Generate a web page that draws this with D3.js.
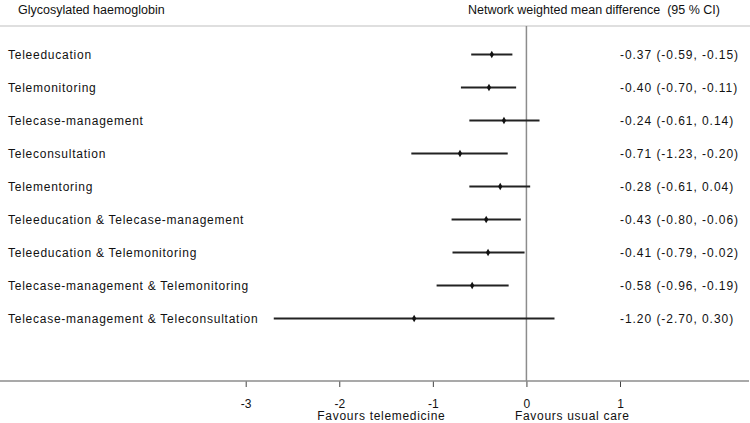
<!DOCTYPE html>
<html>
<head>
<meta charset="utf-8">
<script src="https://cdn.jsdelivr.net/npm/d3@7"></script>
<style>
  body { margin: 0; background: #fff; }
  svg { display: block; font-family: "Liberation Sans", Arial, sans-serif; }
</style>
</head>
<body>
<div id="chart"></div>
<script>
const width = 750, height = 423;

// data
const treatments = ["Teleeducation", "Telemonitoring", "Telecase-management", "Teleconsultation",
  "Telementoring", "Teleeducation & Telecase-management", "Teleeducation & Telemonitoring",
  "Telecase-management & Telemonitoring", "Telecase-management & Teleconsultation"];
const means = [-0.37, -0.40, -0.24, -0.71, -0.28, -0.43, -0.41, -0.58, -1.20];
const lowers = [-0.59, -0.70, -0.61, -1.23, -0.61, -0.80, -0.79, -0.96, -2.70];
const uppers = [-0.15, -0.11, 0.14, -0.20, 0.04, -0.06, -0.02, -0.19, 0.30];
const ticks = [-3, -2, -1, 0, 1];

// plain hyphen for minus, like the original
const locale = d3.formatLocale({decimal: ".", thousands: ",", grouping: [3], currency: ["", ""], minus: "-"});
const fmt = locale.format(".2f");

const x = d3.scaleLinear().domain([-3, 1]).range([245.7, 620]);
const y = d3.scaleBand().domain(treatments).range([38, 335]);

const svg = d3.select("#chart").append("svg")
    .attr("width", width)
    .attr("height", height);

// headers
svg.append("text").attr("x", 18).attr("y", 14)
    .attr("font-size", 12.5).attr("fill", "#111")
    .text("Glycosylated haemoglobin");
svg.append("text").attr("x", 468).attr("y", 14)
    .attr("font-size", 12.5).attr("fill", "#111")
    .attr("xml:space", "preserve")
    .text("Network weighted mean difference  (95 % CI)");

svg.append("line")
    .attr("x1", 0).attr("x2", width).attr("y1", 26).attr("y2", 26)
    .attr("stroke", "#d4d4d4").attr("stroke-width", 1.5);

// zero line
svg.append("line")
    .attr("x1", x(0)).attr("x2", x(0)).attr("y1", 26).attr("y2", 381)
    .attr("stroke", "#8c8c8c").attr("stroke-width", 1.5);

// bottom axis
const axisY = 381;
const axis = svg.append("g").attr("transform", `translate(0,${axisY})`)
    .call(d3.axisBottom(x).tickValues(ticks).tickSize(6).tickPadding(12).tickFormat(locale.format("d")));
axis.select(".domain").remove();
axis.selectAll(".tick line").attr("stroke", "#444");
axis.selectAll(".tick text").attr("font-size", 12).attr("fill", "#111")
    .attr("font-family", "'Liberation Sans', Arial, sans-serif");
svg.append("line")
    .attr("x1", 0).attr("x2", width - 1).attr("y1", axisY).attr("y2", axisY)
    .attr("stroke", "#8c8c8c").attr("stroke-width", 1.5);

svg.append("text").attr("x", x(-1.55)).attr("y", 420)
    .attr("text-anchor", "middle").attr("font-size", 12).attr("letter-spacing", 0.7)
    .attr("fill", "#111").text("Favours telemedicine");
svg.append("text").attr("x", x(0.49)).attr("y", 420)
    .attr("text-anchor", "middle").attr("font-size", 12).attr("letter-spacing", 0.7)
    .attr("fill", "#111").text("Favours usual care");

// rows
const rows = svg.append("g").selectAll("g")
  .data(treatments)
  .join("g")
    .attr("transform", d => `translate(0,${y(d) + y.bandwidth() / 2})`);

rows.append("text")
    .attr("x", 8).attr("dy", "0.35em")
    .attr("font-size", 12).attr("letter-spacing", 0.75).attr("fill", "#111")
    .text(d => d);

rows.append("line")
    .attr("x1", (d, i) => x(lowers[i]))
    .attr("x2", (d, i) => x(uppers[i]))
    .attr("stroke", "#222").attr("stroke-width", 2);

rows.append("path")
    .attr("d", d3.symbol(d3.symbolDiamond, 16))
    .attr("transform", (d, i) => `translate(${x(means[i])},0)`)
    .attr("fill", "#111");

rows.append("text")
    .attr("x", 620).attr("dy", "0.35em")
    .attr("font-size", 12).attr("letter-spacing", 0.95).attr("fill", "#111")
    .text((d, i) => `${fmt(means[i])} (${fmt(lowers[i])}, ${fmt(uppers[i])})`);
</script>
</body>
</html>
